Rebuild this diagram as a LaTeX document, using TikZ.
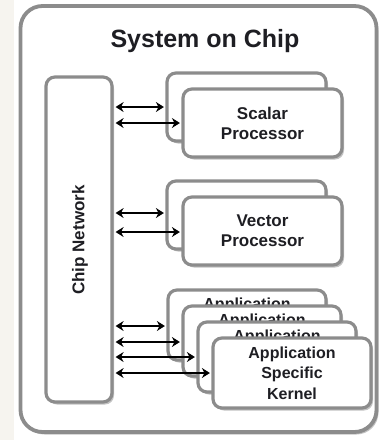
\documentclass[tikz,border=0pt]{standalone}
\usepackage{fontspec}
\setmainfont{Liberation Sans}
\usetikzlibrary{arrows.meta,shadows}
\definecolor{bordergray}{RGB}{140,140,140}
\definecolor{shadowgray}{RGB}{195,195,195}
\definecolor{cream}{RGB}{246,244,239}
\definecolor{txt}{RGB}{30,30,35}
\begin{document}
\begin{tikzpicture}[x=1pt,y=-1pt,
  box/.style={draw=bordergray, line width=3.2pt, fill=white, rounded corners=9pt,
    drop shadow={shadow xshift=2pt, shadow yshift=-2.5pt, fill=shadowgray, opacity=1},
    inner sep=0pt, align=center, text=txt,
    font=\bfseries\fontsize{17}{20}\selectfont},
  appbox/.style={box, minimum width=158pt, minimum height=70pt,
    font=\bfseries\fontsize{16}{20.5}\selectfont},
  procbox/.style={box, minimum width=159pt, minimum height=68pt},
  lbl/.style={text=txt, inner sep=0pt},
  arr/.style={{Stealth[length=8pt,width=10pt]}-{Stealth[length=8pt,width=10pt]},
    line width=2.6pt, black, shorten <=2pt, shorten >=1.5pt}]
\useasboundingbox (0,0) rectangle (380,440);
\fill[cream] (0,0) rectangle (14,440);
% outer box
\node[box, line width=3.8pt, minimum width=356pt, minimum height=426pt, rounded corners=22pt] (soc) at (198.5,219) {};
\node[lbl, font=\bfseries\fontsize{25}{30}\selectfont] (title) at (205,41) {System on Chip};
% chip network
\node[box, minimum width=66pt, minimum height=325pt] (cn) at (79,239.5) {};
\node[lbl, rotate=90, font=\bfseries\fontsize{17}{20}\selectfont] (cnlabel) at (80,240) {Chip Network};
% scalar processor
\node[procbox] (sp1) at (246.5,107) {};
\node[procbox] (sp2) at (262.5,123) {Scalar\\Processor};
% vector processor
\node[procbox] (vp1) at (246.5,215) {};
\node[procbox] (vp2) at (262.5,231) {Vector\\Processor};
% application specific kernels
\node[appbox] (ak1) at (247,325) {};
\node[lbl, font=\bfseries\fontsize{16}{20}\selectfont] (ak1t) at (247,305) {Application};
\node[appbox] (ak2) at (262,341) {};
\node[lbl, font=\bfseries\fontsize{16}{20}\selectfont] (ak2t) at (262,321) {Application};
\node[appbox] (ak3) at (277,357) {};
\node[lbl, font=\bfseries\fontsize{16}{20}\selectfont] (ak3t) at (277,337) {Application};
\node[appbox] (ak4) at (292,373) {Application\\Specific\\Kernel};
% connectors
\draw[arr] (cn.east |- 0,107) -- (sp1.west |- 0,107);
\draw[arr] (cn.east |- 0,123) -- (sp2.west |- 0,123);
\draw[arr] (cn.east |- 0,213) -- (vp1.west |- 0,213);
\draw[arr] (cn.east |- 0,232) -- (vp2.west |- 0,232);
\draw[arr] (cn.east |- 0,326) -- (ak1.west |- 0,326);
\draw[arr] (cn.east |- 0,342) -- (ak2.west |- 0,342);
\draw[arr] (cn.east |- 0,357) -- (ak3.west |- 0,357);
\draw[arr] (cn.east |- 0,373) -- (ak4.west |- 0,373);
\end{tikzpicture}
\end{document}
